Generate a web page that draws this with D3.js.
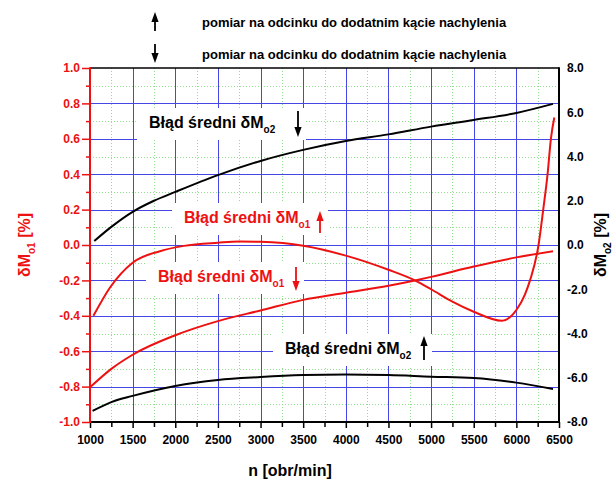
<!DOCTYPE html>
<html>
<head>
<meta charset="utf-8">
<script src="https://cdn.jsdelivr.net/npm/d3@7"></script>
<style>
  html, body { margin: 0; padding: 0; background: #fff; }
  svg { display: block; font-family: "Liberation Sans", Arial, sans-serif; }
</style>
</head>
<body>
<svg id="chart" width="615" height="482"></svg>
<script>
// ── Data ──────────────────────────────────────────────────────────────────
// δMo2 ↓ (right axis, %)
const mo2DownRpm = [1050, 1250, 1500, 1750, 2000, 2500, 3000, 3500, 4000, 4500, 5000, 5500, 6000, 6430];
const mo2DownVal = [0.18, 0.82, 1.5, 2.0, 2.4, 3.16, 3.8, 4.3, 4.7, 5.0, 5.35, 5.65, 5.97, 6.38];
// δMo2 ↑ (right axis, %)
const mo2UpRpm = [1030, 1250, 1500, 2000, 2500, 3000, 3500, 4000, 4500, 5000, 5500, 6000, 6430];
const mo2UpVal = [-7.5, -7.1, -6.82, -6.37, -6.1, -5.97, -5.88, -5.85, -5.88, -5.95, -6.01, -6.22, -6.51];
// δMo1 ↑ (left axis, %)
const mo1UpRpm = [1040, 1235, 1500, 1820, 2100, 2500, 2750, 3000, 3500, 4000, 4500, 4810, 5000, 5250, 5500, 5830, 6000, 6100, 6160, 6260, 6315, 6366, 6405, 6445];
const mo1UpVal = [-0.40, -0.24, -0.10, -0.035, -0.005, 0.013, 0.02, 0.018, -0.004, -0.06, -0.14, -0.20, -0.25, -0.32, -0.377, -0.428, -0.367, -0.28, -0.20, 0.0, 0.2, 0.4, 0.6, 0.72];
// δMo1 ↓ (left axis, %)
const mo1DownRpm = [1010, 1250, 1500, 2000, 2500, 3000, 3500, 4000, 4500, 4810, 5000, 5500, 6000, 6430];
const mo1DownVal = [-0.80, -0.70, -0.62, -0.51, -0.43, -0.37, -0.31, -0.27, -0.23, -0.20, -0.18, -0.122, -0.07, -0.035];

// ── Ticks ─────────────────────────────────────────────────────────────────
const rpmMajor = [1000, 1500, 2000, 2500, 3000, 3500, 4000, 4500, 5000, 5500, 6000, 6500];
const rpmMinor = [1250, 1750, 2250, 2750, 3250, 3750, 4250, 4750, 5250, 5750, 6250];
const leftMajor = [-1.0, -0.8, -0.6, -0.4, -0.2, 0.0, 0.2, 0.4, 0.6, 0.8, 1.0];
const leftMinor = [-0.9, -0.7, -0.5, -0.3, -0.1, 0.1, 0.3, 0.5, 0.7, 0.9];
const rightMajor = [-8, -6, -4, -2, 0, 2, 4, 6, 8];

const legendText = 'pomiar na odcinku do dodatnim kącie nachylenia';
const labelText = 'Błąd średni δM';

// ── Colours ───────────────────────────────────────────────────────────────
const RED = '#ee1111';
const BLUE = '#4646e6';
const GREEN = '#8fdf8f';

// ── Scales ────────────────────────────────────────────────────────────────
const svg = d3.select('#chart');
const L = 90, R = 559, T = 68, B = 422;
const x = d3.scaleLinear().domain([1000, 6500]).range([L, R]);
const yL = d3.scaleLinear().domain([-1, 1]).range([B, T]);
const yR = d3.scaleLinear().domain([-8, 8]).range([B, T]);

// ── Grid ──────────────────────────────────────────────────────────────────
const grid = svg.append('g');
grid.selectAll('.vmin').data(rpmMinor).join('line')
  .attr('x1', d => Math.round(x(d)) + 0.5).attr('x2', d => Math.round(x(d)) + 0.5)
  .attr('y1', T).attr('y2', B)
  .attr('stroke', GREEN).attr('stroke-dasharray', '1,2');
grid.selectAll('.hmin').data(leftMinor).join('line')
  .attr('y1', d => Math.round(yL(d)) + 0.5).attr('y2', d => Math.round(yL(d)) + 0.5)
  .attr('x1', L).attr('x2', R)
  .attr('stroke', GREEN).attr('stroke-dasharray', '1,2');
grid.selectAll('.vmaj').data(rpmMajor.slice(1, -1)).join('line')
  .attr('x1', d => Math.round(x(d)) + 0.5).attr('x2', d => Math.round(x(d)) + 0.5)
  .attr('y1', T).attr('y2', B)
  .attr('stroke', BLUE);
grid.selectAll('.hmaj').data(leftMajor.slice(1, -1)).join('line')
  .attr('y1', d => Math.round(yL(d)) + 0.5).attr('y2', d => Math.round(yL(d)) + 0.5)
  .attr('x1', L).attr('x2', R)
  .attr('stroke', BLUE);

const boxLayer = svg.append('g');

// ── Curves ────────────────────────────────────────────────────────────────
function drawCurve(rpm, vals, yScale, color) {
  const pts = rpm.map((n, i) => [n, vals[i]]);
  svg.append('path')
    .datum(pts)
    .attr('fill', 'none')
    .attr('stroke', color)
    .attr('stroke-width', 2)
    .attr('d', d3.line().x(d => x(d[0])).y(d => yScale(d[1])).curve(d3.curveMonotoneX));
}
drawCurve(mo2DownRpm, mo2DownVal, yR, '#000');
drawCurve(mo2UpRpm, mo2UpVal, yR, '#000');
drawCurve(mo1UpRpm, mo1UpVal, yL, RED);
drawCurve(mo1DownRpm, mo1DownVal, yL, RED);

// ── Axes ──────────────────────────────────────────────────────────────────
const fmt = d => d.toFixed(1);

const leftMinAx = svg.append('g').attr('transform', `translate(${L},0)`)
  .call(d3.axisLeft(yL).tickValues(leftMinor).tickSize(4).tickSizeOuter(0).tickFormat(''));
const leftAx = svg.append('g').attr('transform', `translate(${L},0)`)
  .call(d3.axisLeft(yL).tickValues(leftMajor).tickSize(8).tickSizeOuter(0).tickPadding(2).tickFormat(fmt));
[leftMinAx, leftAx].forEach(g => {
  g.select('.domain').remove();
  g.selectAll('line').attr('stroke', RED).attr('stroke-width', 1.5);
});
leftAx.selectAll('text').attr('fill', RED).attr('font-size', 12).attr('font-weight', 'bold')
  .attr('font-family', '"Liberation Sans", Arial, sans-serif');

const botMinAx = svg.append('g').attr('transform', `translate(0,${B})`)
  .call(d3.axisBottom(x).tickValues(rpmMinor).tickSize(5).tickSizeOuter(0).tickFormat(''));
const botAx = svg.append('g').attr('transform', `translate(0,${B})`)
  .call(d3.axisBottom(x).tickValues(rpmMajor).tickSize(6).tickSizeOuter(0).tickPadding(7).tickFormat(d3.format('d')));
[botMinAx, botAx].forEach(g => {
  g.select('.domain').remove();
  g.selectAll('line').attr('stroke', '#000').attr('stroke-width', 1.5);
});
botAx.selectAll('text').attr('fill', '#000').attr('font-size', 12).attr('font-weight', 'bold')
  .attr('font-family', '"Liberation Sans", Arial, sans-serif');

const rightAx = svg.append('g').attr('transform', `translate(${R},0)`)
  .call(d3.axisRight(yR).tickValues(rightMajor).tickSize(0).tickSizeOuter(0).tickPadding(8).tickFormat(fmt));
rightAx.select('.domain').remove();
rightAx.selectAll('text').attr('fill', '#000').attr('font-size', 12).attr('font-weight', 'bold')
  .attr('font-family', '"Liberation Sans", Arial, sans-serif');

// frame
svg.append('line').attr('x1', L).attr('x2', R).attr('y1', T).attr('y2', T).attr('stroke', '#000').attr('stroke-width', 1.5);
svg.append('line').attr('x1', R).attr('x2', R).attr('y1', T - 0.75).attr('y2', B + 1).attr('stroke', '#000').attr('stroke-width', 2);
svg.append('line').attr('x1', L).attr('x2', R + 1).attr('y1', B).attr('y2', B).attr('stroke', '#000').attr('stroke-width', 2);
svg.append('line').attr('x1', L).attr('x2', L).attr('y1', T - 0.75).attr('y2', B + 1).attr('stroke', RED).attr('stroke-width', 2);

// ── Arrows ────────────────────────────────────────────────────────────────
function arrow(g, ax, tip, tail, color) {
  const dir = tail > tip ? 1 : -1;
  g.append('line').attr('x1', ax).attr('x2', ax).attr('y1', tip + dir * 6).attr('y2', tail)
    .attr('stroke', color).attr('stroke-width', 1.8);
  g.append('path')
    .attr('d', `M${ax},${tip} L${ax - 3.6},${tip + dir * 10} L${ax + 3.6},${tip + dir * 10} Z`)
    .attr('fill', color);
}

// ── Curve labels ──────────────────────────────────────────────────────────
function curveLabel(tx, base, color, sub, ax, tip, tail) {
  const g = svg.append('g');
  const t = g.append('text')
    .attr('x', tx).attr('y', base)
    .attr('fill', color).attr('font-size', 16).attr('font-weight', 'bold');
  t.append('tspan').text(labelText);
  t.append('tspan').attr('font-size', 10).attr('dy', 5).text(sub);
  const w = t.node().getComputedTextLength();
  boxLayer.append('rect')
    .attr('x', tx - 12).attr('y', base - 20)
    .attr('width', Math.max(w + 22, ax + 8 - (tx - 12))).attr('height', 32)
    .attr('fill', '#fff');
  arrow(g, ax, tip, tail, color);
}
curveLabel(149, 128, '#000', 'o2', 298, 137, 111);
curveLabel(184, 223, RED, 'o1', 320, 211, 233);
curveLabel(158, 282, RED, 'o1', 296, 291, 267);
curveLabel(285, 354, '#000', 'o2', 424, 336, 360);

// ── Top legend ────────────────────────────────────────────────────────────
const legend = svg.append('g');
arrow(legend, 155, 12, 31, '#000');
arrow(legend, 155, 63, 44, '#000');
legend.append('text').attr('x', 202).attr('y', 27)
  .attr('font-size', 13).attr('font-weight', 'bold').text(legendText);
legend.append('text').attr('x', 202).attr('y', 58.5)
  .attr('font-size', 13).attr('font-weight', 'bold').text(legendText);

// ── Axis titles ───────────────────────────────────────────────────────────
svg.append('text')
  .attr('x', 290).attr('y', 476)
  .attr('text-anchor', 'middle').attr('font-size', 16).attr('font-weight', 'bold')
  .text('n [obr/min]');

function sideTitle(px, color, sub) {
  const t = svg.append('text')
    .attr('transform', `translate(${px},245) rotate(-90)`)
    .attr('text-anchor', 'middle')
    .attr('fill', color).attr('font-size', 16).attr('font-weight', 'bold');
  t.append('tspan').text('δM');
  t.append('tspan').attr('font-size', 10).attr('dy', 5).text(sub);
  t.append('tspan').attr('dy', -5).text(' [%]');
}
sideTitle(30, RED, 'o1');
sideTitle(606, '#000', 'o2');
</script>
</body>
</html>
